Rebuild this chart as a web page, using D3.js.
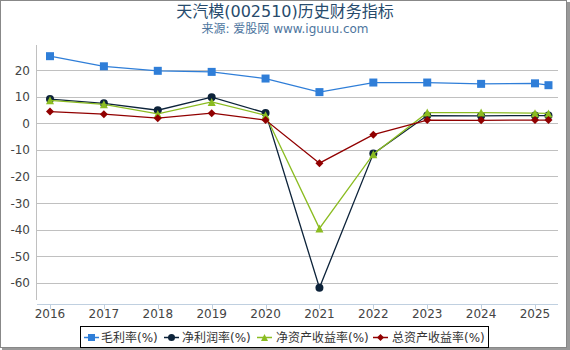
<!DOCTYPE html>
<html><head><meta charset="utf-8">
<script src="https://cdn.jsdelivr.net/npm/d3@7"></script>
<style>body{margin:0;background:#fff}svg{display:block}text{font-family:"DejaVu Sans","Noto Sans CJK SC",sans-serif}</style>
</head><body>
<svg id="c" width="570" height="350"></svg>
<script>
const years = [2016,2017,2018,2019,2020,2021,2022,2023,2024,2025,2025.25];
const grossMargin = [25.2,21.4,19.7,19.3,16.8,11.7,15.3,15.3,14.8,15.0,14.3];
const netMargin = [9.1,7.5,4.9,9.8,3.9,-61.8,-11.4,2.9,2.8,2.9,2.9];
const roe = [8.6,7.1,3.5,8.0,3.0,-39.5,-11.6,4.0,4.0,3.8,3.7];
const roa = [4.4,3.4,1.9,3.8,1.2,-15.0,-4.3,1.2,1.1,1.2,1.2];
const xTicks = [2016,2017,2018,2019,2020,2021,2022,2023,2024,2025];
const yTicks = [-60,-50,-40,-30,-20,-10,0,10,20];
const seriesNames = ["毛利率(%)","净利润率(%)","净资产收益率(%)","总资产收益率(%)"];
const colors = ["#2f7ed8","#0d233a","#8bbc21","#910000"];
const symbols = ["square","circle","triangle","diamond"];
const seriesData = [grossMargin, netMargin, roe, roa];

const svg = d3.select("#c");
// frame
svg.append("rect").attr("x",0.5).attr("y",0.5).attr("width",566).attr("height",347).attr("fill","#fff").attr("stroke","#888");
svg.append("rect").attr("x",567).attr("y",2).attr("width",3).attr("height",348).attr("fill","#999");
svg.append("rect").attr("x",2).attr("y",348).attr("width",568).attr("height",2).attr("fill","#999");

svg.append("text").attr("x",285).attr("y",17).attr("text-anchor","middle").attr("font-size",16).attr("fill","#274b6d").text("天汽模(002510)历史财务指标");
svg.append("text").attr("x",285).attr("y",33).attr("text-anchor","middle").attr("font-size",12).attr("fill","#4d759e").text("来源: 爱股网 www.iguuu.com");

const x = d3.scaleLinear().domain([2016,2025]).range([50,535]);
const y = d3.scaleLinear().domain([-67.9,29.4]).range([304,45]);
const left = 37, right = 558;

// grid
svg.append("g").selectAll("line").data(yTicks).join("line")
  .attr("x1",left).attr("x2",right).attr("y1",d=>Math.round(y(d))+0.5).attr("y2",d=>Math.round(y(d))+0.5)
  .attr("stroke","#c0c0c0").attr("stroke-width",1);
// y axis line
svg.append("line").attr("x1",left-0.5).attr("x2",left-0.5).attr("y1",45).attr("y2",300).attr("stroke","#c0c0c0");
// y labels
svg.append("g").selectAll("text").data(yTicks).join("text")
  .attr("x",30).attr("y",d=>y(d)+4.5).attr("text-anchor","end").attr("font-size",12).attr("fill","#444").text(d=>d);
// x axis
svg.append("line").attr("x1",left).attr("x2",right).attr("y1",304.5).attr("y2",304.5).attr("stroke","#c0d0e0");
svg.append("g").selectAll("line").data(xTicks).join("line")
  .attr("x1",d=>Math.round(x(d))+0.5).attr("x2",d=>Math.round(x(d))+0.5).attr("y1",304).attr("y2",309).attr("stroke","#c0d0e0");
svg.append("g").selectAll("text").data(xTicks).join("text")
  .attr("x",d=>x(d)).attr("y",318).attr("text-anchor","middle").attr("font-size",12).attr("fill","#444").text(d=>d);

function sym(g, type, cx, cy, color, s){
  if(type==="square") g.append("rect").attr("x",cx-s).attr("y",cy-s).attr("width",2*s).attr("height",2*s).attr("fill",color);
  else if(type==="circle") g.append("circle").attr("cx",cx).attr("cy",cy).attr("r",s).attr("fill",color);
  else if(type==="triangle") g.append("path").attr("d",`M${cx},${cy-s}L${cx+s},${cy+s}L${cx-s},${cy+s}Z`).attr("fill",color);
  else g.append("path").attr("d",`M${cx},${cy-s}L${cx+s},${cy}L${cx},${cy+s}L${cx-s},${cy}Z`).attr("fill",color);
}

const line = d3.line().x((d,i)=>x(years[i])).y(d=>y(d));
seriesData.forEach((vals,k)=>{
  const g = svg.append("g");
  g.append("path").attr("d",line(vals)).attr("fill","none").attr("stroke",colors[k]).attr("stroke-width",1.3);
  vals.forEach((v,i)=>sym(g,symbols[k],x(years[i]),y(v),colors[k],4));
});

// legend
const lg = svg.append("g");
lg.append("rect").attr("x",80.5).attr("y",326.5).attr("width",408).attr("height",21).attr("fill","#fff").attr("stroke","#000");
const lx = [84,164,257,373];
const tx = [101,182,276,392];
seriesNames.forEach((n,k)=>{
  lg.append("line").attr("x1",lx[k]).attr("x2",lx[k]+15).attr("y1",337.5).attr("y2",337.5).attr("stroke",colors[k]).attr("stroke-width",1.5);
  sym(lg,symbols[k],lx[k]+7.5,337.5,colors[k],3.5);
  lg.append("text").attr("x",tx[k]).attr("y",342).attr("font-size",12).attr("fill","#333").text(n);
});
</script>
</body></html>
